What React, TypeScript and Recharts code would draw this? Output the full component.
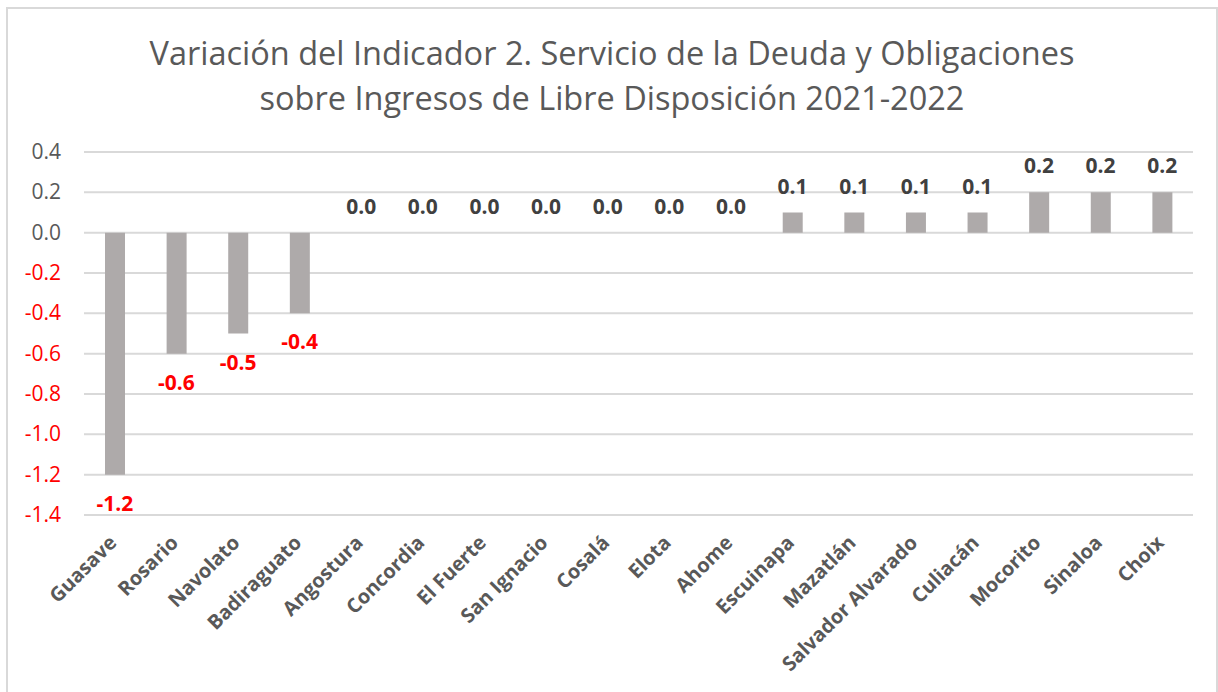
import { ComposedChart, Bar, Line, XAxis, YAxis, CartesianGrid, LabelList } from 'recharts';

const municipios = [
  'Guasave',
  'Rosario',
  'Navolato',
  'Badiraguato',
  'Angostura',
  'Concordia',
  'El Fuerte',
  'San Ignacio',
  'Cosalá',
  'Elota',
  'Ahome',
  'Escuinapa',
  'Mazatlán',
  'Salvador Alvarado',
  'Culiacán',
  'Mocorito',
  'Sinaloa',
  'Choix',
];
const variacion = [-1.2, -0.6, -0.5, -0.4, 0.0, 0.0, 0.0, 0.0, 0.0, 0.0, 0.0, 0.1, 0.1, 0.1, 0.1, 0.2, 0.2, 0.2];
const yTicks = [-1.4, -1.2, -1.0, -0.8, -0.6, -0.4, -0.2, 0.0, 0.2, 0.4];

const titleLines = [
  'Variación del Indicador 2. Servicio de la Deuda y Obligaciones',
  'sobre Ingresos de Libre Disposición 2021-2022',
];

const data = municipios.map((name, i) => ({ name, value: variacion[i] }));

const FONT = '"Open Sans", sans-serif';

const YTick = (props: any) => {
  const { x, y, payload } = props;
  const v = Number(payload.value);
  return (
    <text
      x={x}
      y={y}
      dy={7}
      textAnchor="end"
      fontSize={21}
      fontFamily={FONT}
      fill={v < 0 ? '#FF0000' : '#595959'}
    >
      {v.toFixed(1)}
    </text>
  );
};

const XTick = (props: any) => {
  const { x, y, payload } = props;
  return (
    <g transform={`translate(${x + 3},${y + 21})`}>
      <text
        transform="rotate(-45)"
        textAnchor="end"
        fontSize={20}
        fontWeight={700}
        fontFamily={FONT}
        fill="#595959"
      >
        {payload.value}
      </text>
    </g>
  );
};

// label placed from the point at the top/bottom end of each bar
const ValueLabel = (props: any) => {
  const { x, y, value } = props;
  const neg = value < 0;
  return (
    <text
      x={x}
      y={neg ? y + 36 : y - 19}
      textAnchor="middle"
      fontSize={21}
      fontWeight={700}
      fontFamily={FONT}
      fill={neg ? '#FF0000' : '#404040'}
    >
      {Number(value).toFixed(1)}
    </text>
  );
};

const App = () => {
  return (
    <div
      style={{
        position: 'absolute',
        left: 6,
        top: 7,
        width: 1212,
        height: 700,
        border: '2px solid #d9d9d9',
        background: '#fff',
        boxSizing: 'border-box',
      }}
    >
      <div
        style={{
          position: 'absolute',
          left: 0,
          top: 21,
          width: 1208,
          textAlign: 'center',
          fontFamily: FONT,
          fontSize: 32.5,
          lineHeight: '45px',
          color: '#595959',
        }}
      >
        {titleLines.map((l) => (
          <div key={l}>{l}</div>
        ))}
      </div>
      <div style={{ position: 'absolute', left: 0, top: 0 }}>
        <ComposedChart
          width={1208}
          height={690}
          data={data}
          margin={{ top: 143, right: 23, left: 0, bottom: 0 }}
        >
          <CartesianGrid vertical={false} stroke="#d9d9d9" strokeWidth={2} />
          <XAxis
            dataKey="name"
            axisLine={false}
            tickLine={false}
            interval={0}
            height={184}
            tick={<XTick />}
          />
          <YAxis
            domain={[-1.4, 0.4]}
            ticks={yTicks}
            width={76}
            axisLine={false}
            tickLine={false}
            tickSize={0}
            tickMargin={23}
            tick={<YTick />}
            allowDataOverflow
          />
          <Bar dataKey="value" fill="#AEAAAA" barSize={20} isAnimationActive={false} />
          <Line
            dataKey="value"
            stroke="none"
            dot={false}
            activeDot={false}
            legendType="none"
            isAnimationActive={false}
          >
            <LabelList dataKey="value" content={<ValueLabel />} />
          </Line>
        </ComposedChart>
      </div>
    </div>
  );
};

export default App;
